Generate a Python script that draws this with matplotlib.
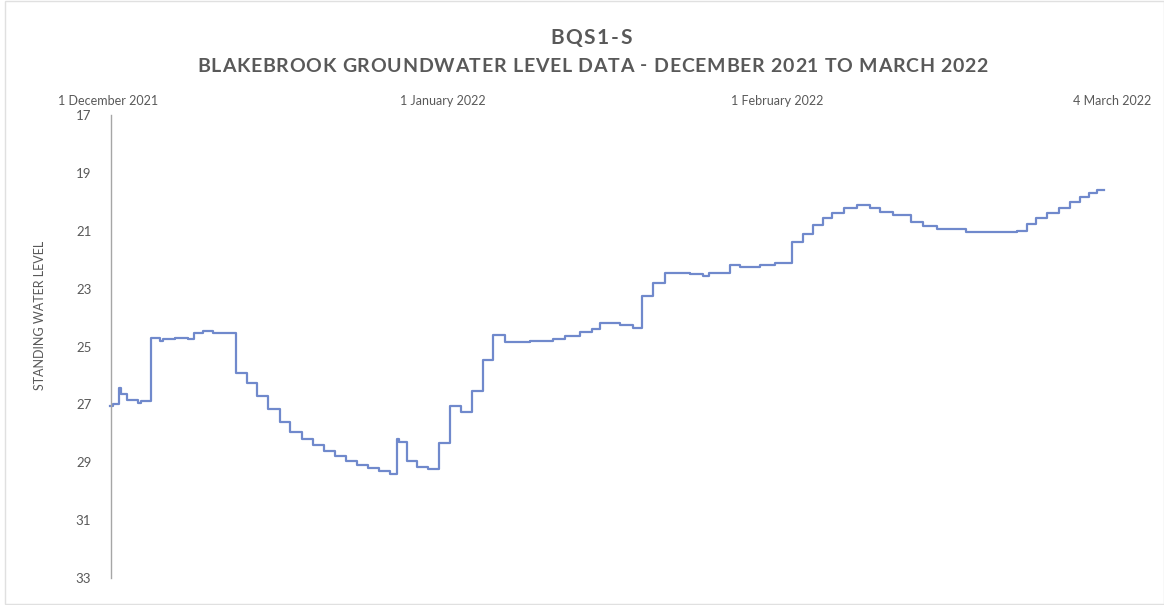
import matplotlib
matplotlib.use("Agg")
import matplotlib.pyplot as plt
from matplotlib.patches import Rectangle
import pandas as pd

# ---- data ----
start_date = "2021-12-01"
# step change times (days since 1 Dec 2021) and standing water level after each change
days = [0.2, 0.5, 1.0, 1.2, 1.8, 2.8, 3.1, 4.0, 4.8, 5.1, 6.2, 7.4, 8.0, 8.8, 9.7,
        11.9, 12.9, 13.8, 14.8, 15.9, 16.9, 18.0, 19.0, 20.0, 21.0, 22.0, 23.1, 24.1,
        25.1, 26.1, 26.8, 27.0, 27.7, 28.6, 29.6, 30.7, 31.7, 32.7, 33.7, 34.7, 35.7,
        36.8, 39.1, 41.2, 42.3, 43.7, 44.8, 45.6, 47.4, 48.6, 49.5, 50.5, 51.6, 53.9,
        55.1, 55.7, 57.6, 58.5, 60.4, 61.8, 63.4, 64.4, 65.3, 66.2, 67.1, 68.2, 69.4,
        70.6, 71.5, 72.7, 74.4, 75.5, 76.8, 79.5, 82.6, 84.2, 85.1, 86.0, 87.0, 88.1,
        89.1, 90.0, 90.9, 91.6, 92.3]
levels = [27.05, 27.0, 26.45, 26.65, 26.85, 26.95, 26.9, 24.7, 24.8, 24.75, 24.7, 24.75,
          24.55, 24.45, 24.55,
          25.9, 26.25, 26.7, 27.15, 27.6, 27.95, 28.2, 28.4, 28.6, 28.8, 28.95, 29.1, 29.2,
          29.3, 29.4, 28.2, 28.3, 28.95, 29.15, 29.25, 28.35, 27.05, 27.25, 26.55, 25.45, 24.6,
          24.85, 24.8, 24.75, 24.65, 24.5, 24.4, 24.2, 24.25, 24.35, 23.25, 22.8, 22.45, 22.5,
          22.55, 22.45, 22.2, 22.25, 22.2, 22.1, 21.4, 21.1, 20.8, 20.55, 20.4, 20.2, 20.1,
          20.2, 20.35, 20.45, 20.7, 20.85, 20.95, 21.05, 21.05, 21.0, 20.75, 20.55, 20.4, 20.2,
          20.0, 19.85, 19.7, 19.6, 19.6]
tick_dates = ["2021-12-01", "2022-01-01", "2022-02-01", "2022-03-04"]
tick_labels = ["1 December 2021", "1 January 2022", "1 February 2022", "4 March 2022"]
y_ticks = [17, 19, 21, 23, 25, 27, 29, 31, 33]

title = "BQS1-S"
subtitle = "BLAKEBROOK GROUNDWATER LEVEL DATA - DECEMBER 2021 TO MARCH 2022"
ylabel = "STANDING WATER LEVEL"

# ---- plot ----
plt.rcParams['font.family'] = ['Lato', 'DejaVu Sans']
grey = "#595959"
line_color = "#7089cc"
W, H = 1164, 605

fig = plt.figure(figsize=(W / 100, H / 100), dpi=100)
fig.patch.set_facecolor("white")
ax = fig.add_axes([108 / W, 1 - 578 / H, 1004 / W, 463 / H])

t0 = pd.Timestamp(start_date)
dates = [t0 + pd.Timedelta(days=d) for d in days]
ax.step(dates, levels, where="post", color=line_color, linewidth=1.6)

ax.set_xlim(pd.Timestamp(tick_dates[0]), pd.Timestamp(tick_dates[-1]))
ax.set_ylim(33, 17)
ax.set_yticks(y_ticks)
ax.set_yticklabels([str(v) for v in y_ticks])
ax.xaxis.tick_top()
ax.set_xticks([pd.Timestamp(d) for d in tick_dates])
ax.set_xticklabels(tick_labels)
ax.tick_params(axis="x", length=0, pad=6, labelsize=9, labelcolor=grey)
ax.tick_params(axis="y", length=0, pad=14, labelsize=9.5, labelcolor=grey)

for s in ["top", "right", "bottom"]:
    ax.spines[s].set_visible(False)
ax.spines["left"].set_color("#a6a6a6")
ax.spines["left"].set_linewidth(1.0)
ax.spines["left"].set_position(("outward", -2))

renderer = fig.canvas.get_renderer()


def spaced_text(s, x_left, x_right, y_px, **kw):
    """Draw text letter by letter, spread to span x_left..x_right pixels."""
    widths = []
    for ch in s:
        t = fig.text(0, 0, ch if ch != " " else "n", **kw)
        widths.append(t.get_window_extent(renderer).width)
        t.remove()
    sp = fig.text(0, 0, "n n", **kw)
    w_nn = sp.get_window_extent(renderer).width
    sp.remove()
    sp = fig.text(0, 0, "nn", **kw)
    w_space = w_nn - sp.get_window_extent(renderer).width
    sp.remove()
    widths = [w_space if ch == " " else w for ch, w in zip(s, widths)]
    gap = (x_right - x_left - sum(widths)) / (len(s) - 1)
    x = x_left
    for ch, w in zip(s, widths):
        if ch != " ":
            fig.text(x / W, 1 - y_px / H, ch, ha="left", va="center", **kw)
        x += w + gap


title_kw = dict(fontsize=15, fontweight="bold", color=grey)
sub_kw = dict(fontsize=14, fontweight="bold", color=grey)
spaced_text(title, 550, 632, 38, **title_kw)
spaced_text(subtitle, 197, 988, 66, **sub_kw)

fig.text(40 / W, 1 - 315 / H, ylabel, ha="center", va="center",
         rotation=90, fontsize=9, color=grey)

fig.patches.append(Rectangle((5 / W, 0.002), 1 - 5 / W, 0.996,
                             transform=fig.transFigure, fill=False,
                             edgecolor="#e0e0e0", linewidth=1.0))

fig.savefig("out.png", dpi=100, facecolor="white")
